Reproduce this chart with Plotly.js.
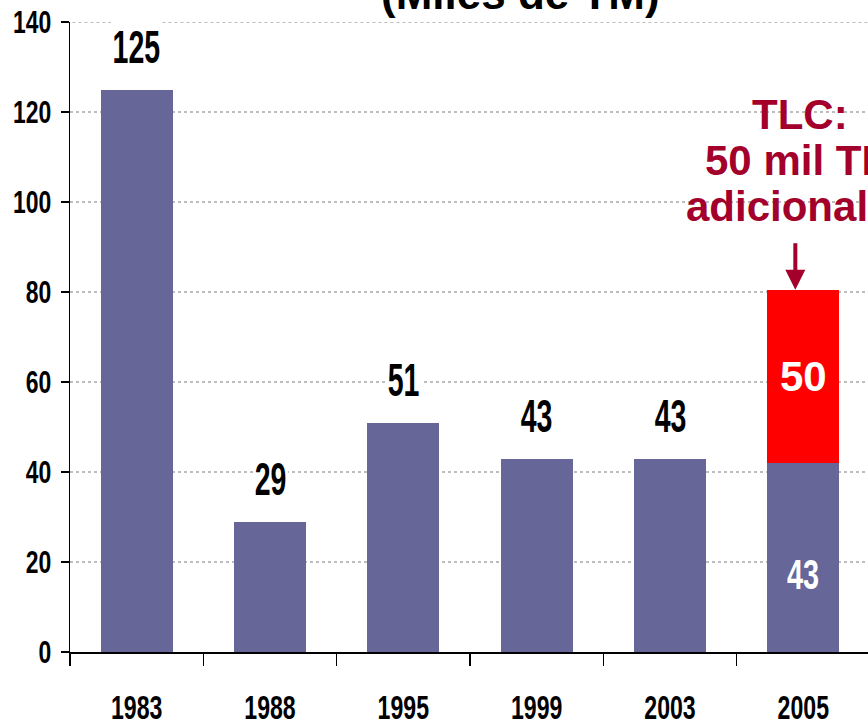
<!DOCTYPE html>
<html>
<head>
<meta charset="utf-8">
<script src="https://cdn.plot.ly/plotly-3.0.1.min.js"></script>
<style>
  html, body { margin: 0; padding: 0; background: #ffffff; }
  #chart { width: 868px; height: 727px; }
</style>
</head>
<body>
<div id="chart"></div>
<script>
// ---- data ----
const years = ['1983', '1988', '1995', '1999', '2003', '2005'];
const baseValues = [125, 29, 51, 43, 43, 42];
const tlcValues = [null, null, null, null, null, 38.5];
const topLabels = ['125', '29', '51', '43', '43', ''];
const baseLabel2005 = '43';
const tlcLabel2005 = '50';
const yTicks = [0, 20, 40, 60, 80, 100, 120, 140];
const titleText = '(Miles de TM)';
const tlcNote = ['TLC:', '50 mil TM', 'adicionales'];

// "Arimo" token marks texts that get horizontally condensed after drawing
const NARROW = '"Liberation Sans", Arimo, sans-serif';
const SANS = '"Liberation Sans", Arial, sans-serif';
const DARKRED = '#A3002B';
const GRID = '#BDBDBD';

const traces = [
  {
    type: 'bar', x: years, y: baseValues, width: 0.54,
    marker: { color: '#666699', line: { width: 0 } },
    hoverinfo: 'skip', showlegend: false
  },
  {
    type: 'bar', x: years, y: tlcValues, width: 0.54,
    marker: { color: '#FF0000', line: { width: 0 } },
    hoverinfo: 'skip', showlegend: false
  }
];

const annotations = [];
years.forEach((yr, i) => {
  if (topLabels[i]) {
    annotations.push({
      x: i, y: baseValues[i], xref: 'x', yref: 'y',
      text: topLabels[i], showarrow: false,
      yanchor: 'middle', yshift: 43,
      bgcolor: '#ffffff', borderpad: 2,
      font: { family: NARROW, size: 46, color: '#000000', weight: 700 }
    });
  }
});
const last = years.length - 1;
const total2005 = baseValues[last] + tlcValues[last];
annotations.push({
  x: last, y: baseValues[last] * 0.4, xref: 'x', yref: 'y',
  text: baseLabel2005, showarrow: false, yanchor: 'middle', yshift: 2,
  font: { family: NARROW, size: 43, color: '#ffffff', weight: 700 }
});
annotations.push({
  x: last, y: (baseValues[last] + total2005) / 2, xref: 'x', yref: 'y',
  text: tlcLabel2005, showarrow: false, yanchor: 'middle',
  font: { family: SANS, size: 42, color: '#ffffff', weight: 700 }
});
// arrow
annotations.push({
  x: last, y: total2005, xref: 'x', yref: 'y',
  text: '', showarrow: true, ax: 0, ay: -48, xshift: -8,
  arrowhead: 2, arrowsize: 1, arrowwidth: 4, arrowcolor: DARKRED
});
// TLC note lines
tlcNote.forEach((line, k) => {
  annotations.push({
    x: last, y: total2005, xref: 'x', yref: 'y',
    text: line, showarrow: false, xshift: -3,
    yanchor: 'bottom', yshift: 150 - k * 46,
    font: { family: SANS, size: 42, color: DARKRED, weight: 700 }
  });
});
// cut-off title
annotations.push({
  x: 0.565, y: 1, xref: 'paper', yref: 'paper',
  text: titleText, showarrow: false, yanchor: 'bottom', yshift: 2,
  font: { family: SANS, size: 44, color: '#000000', weight: 700 }
});

const layout = {
  width: 868, height: 727,
  margin: { l: 70, r: 0, t: 22, b: 75, pad: 0 },
  paper_bgcolor: '#ffffff', plot_bgcolor: '#ffffff',
  barmode: 'stack',
  showlegend: false,
  xaxis: {
    type: 'category',
    range: [-0.5, 5.485],
    showline: true, linecolor: '#000000', linewidth: 1.5,
    ticks: 'outside', tickson: 'boundaries', ticklen: 12, tickwidth: 1.5, tickcolor: '#000000',
    showgrid: false, zeroline: false,
    ticklabelstandoff: 25,
    tickfont: { family: NARROW, size: 34, color: '#000000', weight: 700 }
  },
  yaxis: {
    range: [0, 140],
    tickvals: yTicks,
    showline: true, linecolor: '#000000', linewidth: 1.5,
    ticks: 'outside', ticklen: 8, tickwidth: 1.5, tickcolor: '#000000',
    showgrid: true, gridcolor: GRID, griddash: 'dot', gridwidth: 2,
    zeroline: false,
    ticklabelstandoff: 3,
    tickfont: { family: NARROW, size: 31, color: '#000000', weight: 700 }
  },
  shapes: [{
    type: 'line', xref: 'paper', yref: 'y', x0: 0.003, x1: 1,
    y0: yTicks[yTicks.length - 1], y1: yTicks[yTicks.length - 1],
    layer: 'below', line: { color: GRID, width: 2, dash: 'dot' }
  }],
  annotations: annotations
};

function squeezeText(el, s) {
  const px = parseFloat(el.getAttribute('x') || '0');
  const t = el.getAttribute('transform') || '';
  el.setAttribute('transform', t + ' translate(' + px + ',0) scale(' + s + ',1) translate(' + (-px) + ',0)');
}
function squeezeGroup(g, s) {
  const bb = g.getBBox();
  const cx = bb.x + bb.width / 2;
  const t = g.getAttribute('transform') || '';
  g.setAttribute('transform', t + ' translate(' + cx + ',0) scale(' + s + ',1) translate(' + (-cx) + ',0)');
}

Plotly.newPlot('chart', traces, layout, { staticPlot: true, displayModeBar: false }).then(gd => {
  gd.querySelectorAll('.xtick text').forEach(el => squeezeText(el, 0.68));
  gd.querySelectorAll('.ytick text').forEach(el => squeezeText(el, 0.74));
  gd.querySelectorAll('.annotation-text-g').forEach(g => {
    const txt = g.querySelector('text');
    if (!txt) return;
    const ff = txt.style.fontFamily || '';
    if (ff.indexOf('Arimo') >= 0) {
      const size = parseFloat(txt.style.fontSize || '0');
      squeezeGroup(g, size > 44 ? 0.62 : 0.67);
    }
  });
});
</script>
</body>
</html>
